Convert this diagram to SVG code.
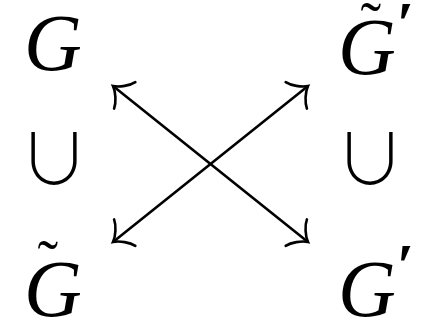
<svg xmlns="http://www.w3.org/2000/svg" width="421" height="320" viewBox="0 0 421 320">
  <style>
    .m { font-family: "Liberation Serif", "Times New Roman", serif; font-style: italic; font-size: 80px; fill: #000; }
    .acc { font-style: normal; font-size: 62px; }
    .pr { font-size: 62px; font-weight: bold; }
    .cup { font-family: "Noto Sans CJK JP", "DejaVu Sans", sans-serif; font-weight: 300; font-size: 70px; fill: #000; }
    .arr { fill: none; stroke: #000; stroke-width: 2.6; }
  </style>
  <defs>
    <marker id="to" markerUnits="userSpaceOnUse" orient="auto-start-reverse" refX="0" refY="0" markerWidth="1" markerHeight="1" style="overflow:visible">
      <path d="M -15,-17 C -13,-11 -6,-3 0,0 C -6,3 -13,11 -15,17" fill="none" stroke="#000" stroke-width="2.6" stroke-linecap="round"/>
    </marker>
  </defs>
  <g id="G">
    <text class="m" x="24" y="70">G</text>
  </g>
  <g id="Gtilde-prime">
    <text class="m" x="338" y="74">G<tspan class="acc" x="360.5" y="45">˜</tspan><tspan class="pr" x="396" y="44">′</tspan></text>
  </g>
  <g id="cup-left">
    <text class="cup" x="19" y="185">∪</text>
  </g>
  <g id="cup-right">
    <text class="cup" x="335" y="185">∪</text>
  </g>
  <g id="Gtilde">
    <text class="m" x="24" y="316">G<tspan class="acc" x="37.5" y="283">˜</tspan></text>
  </g>
  <g id="G-prime">
    <text class="m" x="338" y="316">G<tspan class="pr" x="396" y="286">′</tspan></text>
  </g>
  <g id="connectors">
    <line class="arr" x1="113" y1="86" x2="308" y2="242" marker-start="url(#to)" marker-end="url(#to)"/>
    <line class="arr" x1="113" y1="242" x2="308" y2="86" marker-start="url(#to)" marker-end="url(#to)"/>
  </g>
</svg>
